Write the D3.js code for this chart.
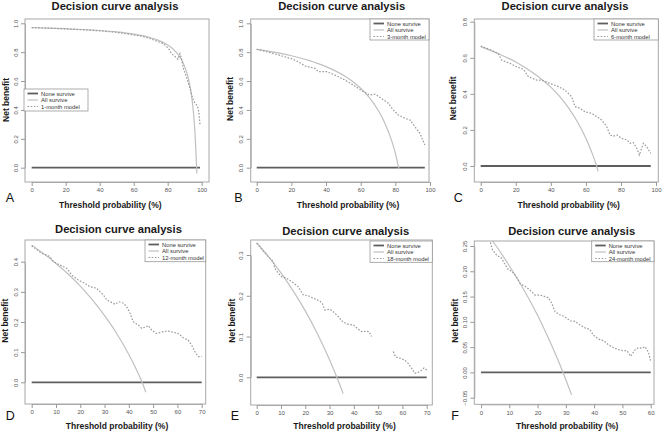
<!DOCTYPE html>
<html>
<head>
<meta charset="utf-8">
<script src="https://cdn.jsdelivr.net/npm/d3@7"></script>
<style>
body { margin: 0; background: #fff; }
svg { display: block; font-family: "Liberation Sans", Arial, sans-serif; }
</style>
</head>
<body>
<script>
const W = 662, H = 431

// legend text + model names
const legendLabels = ['None survive', 'All survive']
const modelNames = ['1-month model', '3-month model', '6-month model', '12-month model', '18-month model', '24-month model']

// tick values
const xTicks100 = [0, 20, 40, 60, 80, 100]
const xTicks70 = [0, 10, 20, 30, 40, 50, 60, 70]
const xTicks60 = [0, 10, 20, 30, 40, 50, 60]
const yTicksAB = [0, 0.2, 0.4, 0.6, 0.8, 1.0]
const yTicksC = [0, 0.2, 0.4, 0.6, 0.8]
const yTicksD = [0, 0.1, 0.2, 0.3, 0.4]
const yTicksE = [0, 0.1, 0.2, 0.3]
const yTicksF = [-0.05, 0, 0.05, 0.10, 0.15, 0.20, 0.25]

// None survive (reference line at 0)
const noneA = [[0, 0], [99, 0]]
const noneB = [[0, 0], [97, 0]]
const noneC = [[0, 0], [97, 0]]
const noneD = [[0, 0], [70, 0]]
const noneE = [[0, 0], [70, 0]]
const noneF = [[0, 0], [60, 0]]

// All survive curves
const allA = [[0, 0.97], [10, 0.967], [20, 0.9625], [30, 0.957], [40, 0.95], [50, 0.94], [60, 0.925], [70, 0.90], [75, 0.88], [80, 0.85], [85, 0.80], [88, 0.75], [90, 0.70], [92, 0.625], [93, 0.57], [94, 0.50], [95, 0.40], [96, 0.25], [96.5, 0.14], [97, 0.0], [97.2, -0.04]]
const allB = [[0, 0.82], [10, 0.80], [20, 0.775], [30, 0.743], [40, 0.70], [50, 0.64], [55, 0.60], [60, 0.55], [65, 0.486], [70, 0.40], [74, 0.308], [78, 0.182], [80, 0.10], [82, 0.0], [82.3, -0.01]]
const allC = [[0, 0.662], [10, 0.623], [20, 0.577], [30, 0.516], [40, 0.437], [45, 0.386], [50, 0.324], [55, 0.248], [60, 0.154], [63, 0.085], [66, 0.004], [67, -0.03]]
const allD = [[0, 0.455], [5, 0.426], [10, 0.394], [15, 0.359], [20, 0.319], [25, 0.273], [30, 0.221], [35, 0.162], [40, 0.092], [43, 0.044], [45, 0.009], [47, -0.033]]
const allE = [[0, 0.33], [5, 0.295], [10, 0.256], [15, 0.212], [20, 0.163], [25, 0.107], [30, 0.043], [33, 0.0], [35.6, -0.04]]
const allF = [[0, 0.29], [5, 0.253], [10, 0.211], [15, 0.165], [20, 0.113], [25, 0.053], [29, 0.0], [32, -0.044]]

// model curves
const modelA = [[0, 0.97], [10, 0.966], [20, 0.961], [30, 0.955], [40, 0.948], [50, 0.937], [60, 0.92], [65, 0.91], [70, 0.893], [75, 0.87], [77.4, 0.86], [80.4, 0.827], [82.3, 0.79], [84.3, 0.77], [86, 0.75], [87.2, 0.79], [88, 0.76], [89.2, 0.69], [91.2, 0.62], [93.1, 0.55], [94.7, 0.48], [96, 0.446], [97, 0.434], [98, 0.41], [98.5, 0.36], [99, 0.30]]
const modelB = [[0, 0.82], [5, 0.805], [10, 0.79], [17, 0.765], [20, 0.755], [24, 0.734], [28, 0.704], [33.6, 0.688], [35.5, 0.665], [40.4, 0.665], [45, 0.642], [51, 0.607], [55.7, 0.573], [61.5, 0.526], [65.4, 0.503], [68.3, 0.51], [72, 0.48], [76, 0.446], [78.8, 0.40], [81.7, 0.365], [85.6, 0.342], [88.5, 0.33], [91.3, 0.284], [94.2, 0.238], [97, 0.157]]
const modelC = [[0, 0.665], [5.3, 0.646], [10, 0.624], [12, 0.587], [16.7, 0.569], [20.5, 0.55], [24.3, 0.537], [27.2, 0.495], [31.9, 0.476], [34.8, 0.476], [39.5, 0.458], [44.3, 0.44], [48.1, 0.421], [51.9, 0.384], [53.8, 0.329], [56.6, 0.32], [59.5, 0.30], [63.3, 0.292], [66.2, 0.273], [69, 0.255], [71.9, 0.218], [73.8, 0.172], [75.6, 0.165], [77.9, 0.172], [80.4, 0.153], [83.3, 0.145], [85.2, 0.126], [87, 0.13], [89, 0.098], [90.5, 0.061], [92.8, 0.126], [94.7, 0.107], [97, 0.07]]
const modelD = [[0, 0.453], [4.1, 0.428], [7.5, 0.417], [8.9, 0.40], [11.6, 0.389], [14.4, 0.378], [16.5, 0.356], [19.2, 0.339], [22, 0.328], [24, 0.317], [26.7, 0.312], [29.5, 0.29], [30.9, 0.273], [32.9, 0.265], [34.3, 0.259], [36, 0.267], [37.8, 0.262], [39.1, 0.251], [40.5, 0.229], [41.8, 0.201], [43.9, 0.19], [45.3, 0.179], [47.1, 0.184], [48, 0.188], [49.4, 0.173], [51.4, 0.162], [54.2, 0.168], [56.2, 0.17], [58.3, 0.166], [60.3, 0.162], [62.4, 0.148], [64.4, 0.14], [65.8, 0.124], [67.2, 0.102], [68.6, 0.085], [70, 0.085]]
const modelE = [[0, 0.329], [4.1, 0.30], [6.8, 0.284], [7.5, 0.267], [8.9, 0.255], [10.3, 0.247], [12.3, 0.243], [14.4, 0.235], [17.1, 0.222], [19.2, 0.202], [21.2, 0.20], [23.3, 0.194], [26, 0.187], [27, 0.181], [28.1, 0.165], [30.2, 0.167], [31.5, 0.161], [33.6, 0.149], [35.4, 0.136], [37.7, 0.13], [39.9, 0.128], [41.4, 0.12], [43.2, 0.112], [45.2, 0.113], [46.2, 0.112], [47.3, 0.10], [50, null], [56.2, 0.063], [57.2, 0.05], [59, 0.047], [61, 0.042], [62.4, 0.034], [63.8, 0.022], [65.1, 0.01], [66.5, 0.012], [67.9, 0.018], [68.9, 0.023], [70, 0.018]]
const modelF = [[0, 0.29], [3.2, 0.259], [4.1, 0.242], [5.5, 0.232], [7.3, 0.226], [8.5, 0.213], [9.7, 0.203], [10.9, 0.20], [12.4, 0.19], [13.8, 0.176], [15.6, 0.17], [17.3, 0.163], [19.1, 0.153], [20.9, 0.153], [22.6, 0.15], [23.8, 0.148], [25, 0.137], [26.2, 0.12], [27.9, 0.114], [29.7, 0.11], [31.5, 0.102], [33.2, 0.101], [35, 0.094], [36.8, 0.088], [38.5, 0.085], [39.7, 0.074], [41.5, 0.066], [43.2, 0.063], [45, 0.055], [46.8, 0.049], [48.6, 0.045], [50.1, 0.043], [51.6, 0.043], [52.9, 0.032], [54.5, 0.045], [55.7, 0.049], [56.9, 0.048], [58, 0.051], [59.2, 0.04], [60, 0.022]]

// layout of each panel (local pixel coords inside the panel)
const panels = [
  { tag: 'A', ox: 0, oy: 0, none: noneA, all: allA, model: modelA, name: modelNames[0],
    xt: xTicks100, yt: yTicksAB, xr: [31.7, 201.7], yr: [167.7, 23.3], box: [25, 209, 19, 182],
    title: [115, 9.5], xlab: [110.3, 207.5], ylab: [6, 100], tagPos: [10, 197.5], legend: [24, 89, 64, 22], fmt: '.1f' },
  { tag: 'B', ox: 220, oy: 0, none: noneB, all: allB, model: modelB, name: modelNames[1],
    xt: xTicks100, yt: yTicksAB, xr: [36.7, 210], yr: [167.7, 23.3], box: [30.7, 209, 19, 182],
    title: [121.7, 9.5], xlab: [128, 208], ylab: [10, 99], tagPos: [18.3, 197.5], legend: [150, 19, 59, 21], fmt: '.1f' },
  { tag: 'C', ox: 440, oy: 0, none: noneC, all: allC, model: modelC, name: modelNames[2],
    xt: xTicks100, yt: yTicksC, xr: [40.7, 216], yr: [166, 21.7], box: [34.3, 218.3, 19, 182],
    title: [125, 9.5], xlab: [128.7, 208], ylab: [13.3, 98.3], tagPos: [18.3, 197.5], legend: [154, 19, 64.3, 21], fmt: '.1f' },
  { tag: 'D', ox: 0, oy: 215, none: noneD, all: allD, model: modelD, name: modelNames[3],
    xt: xTicks70, yt: yTicksD, xr: [31.7, 201.7], yr: [167.3, 46.7], box: [25, 205.7, 25, 189],
    title: [118.5, 17.5], xlab: [117, 214], ylab: [5, 105.7], tagPos: [10.3, 200.3], legend: [145, 25, 60.7, 21.7], fmt: '.1f' },
  { tag: 'E', ox: 220, oy: 215, none: noneE, all: allE, model: modelE, name: modelNames[4],
    xt: xTicks70, yt: yTicksE, xr: [36.7, 206.7], yr: [162.3, 40], box: [30.7, 212.3, 25, 190],
    title: [125.7, 19.5], xlab: [124.5, 214], ylab: [11.7, 105.7], tagPos: [15, 200.3], legend: [150, 26, 62.3, 21.3], fmt: '.1f' },
  { tag: 'F', ox: 440, oy: 215, none: noneF, all: allF, model: modelF, name: modelNames[5],
    xt: xTicks60, yt: yTicksF, xr: [41, 210.7], yr: [182.7, 31], box: [34.3, 214, 26, 189.3],
    title: [131.7, 19.5], xlab: [127.2, 214], ylab: [15, 105.7], tagPos: [15, 200.3], legend: [151.7, 26, 62.3, 20.7], fmt: '.2f' }
]

const svg = d3.select('body').append('svg')
  .attr('width', W)
  .attr('height', H)

svg.append('rect').attr('width', W).attr('height', H).attr('fill', '#fff')

const styles = {
  none: { stroke: '#5e5e5e', width: 1.8, dash: null },
  all: { stroke: '#c0c0c0', width: 1.2, dash: null },
  model: { stroke: '#9a9a9a', width: 1.2, dash: '1.6,1.6' }
}

panels.forEach(function(p, i) {
  const g = svg.append('g').attr('transform', `translate(${p.ox},${p.oy})`)
  const [bx0, bx1, by0, by1] = p.box

  const x = d3.scaleLinear().domain(d3.extent(p.xt)).range(p.xr)
  const y = d3.scaleLinear().domain(d3.extent(p.yt)).range(p.yr)

  // clip to the plot box
  const clipId = 'clip' + i
  g.append('clipPath').attr('id', clipId)
    .append('rect')
      .attr('x', bx0).attr('y', by0)
      .attr('width', bx1 - bx0).attr('height', by1 - by0)

  const lineSmooth = d3.line()
    .x(d => x(d[0])).y(d => y(d[1]))
    .curve(d3.curveMonotoneX)
  const lineRough = d3.line()
    .defined(d => d[1] !== null)
    .x(d => x(d[0])).y(d => y(d[1]))

  const plot = g.append('g').attr('clip-path', `url(#${clipId})`)

  plot.append('path').datum(p.none)
    .attr('d', lineRough).attr('fill', 'none')
    .attr('stroke', styles.none.stroke).attr('stroke-width', styles.none.width)

  plot.append('path').datum(p.all)
    .attr('d', lineSmooth).attr('fill', 'none')
    .attr('stroke', styles.all.stroke).attr('stroke-width', styles.all.width)

  plot.append('path').datum(p.model)
    .attr('d', lineRough).attr('fill', 'none')
    .attr('stroke', styles.model.stroke).attr('stroke-width', styles.model.width)
    .attr('stroke-dasharray', styles.model.dash)

  // box
  g.append('rect')
    .attr('x', bx0).attr('y', by0)
    .attr('width', bx1 - bx0).attr('height', by1 - by0)
    .attr('fill', 'none').attr('stroke', '#a8a8a8').attr('stroke-width', 1)

  // x axis
  const xa = g.append('g').attr('transform', `translate(0,${by1})`)
    .call(d3.axisBottom(x).tickValues(p.xt).tickSize(4).tickSizeOuter(0).tickPadding(2).tickFormat(d3.format('d')))
  xa.select('.domain').attr('stroke', '#a8a8a8')
  xa.selectAll('.tick line').attr('stroke', '#999')
  xa.selectAll('.tick text').attr('font-size', 6).attr('fill', '#555').attr('font-family', null)

  // y axis, labels parallel to the axis
  const ya = g.append('g').attr('transform', `translate(${bx0},0)`)
    .call(d3.axisLeft(y).tickValues(p.yt).tickSize(4).tickSizeOuter(0).tickFormat(d3.format(p.fmt)))
  ya.select('.domain').attr('stroke', '#a8a8a8')
  ya.selectAll('.tick line').attr('stroke', '#999')
  ya.selectAll('.tick text')
    .attr('font-size', 6).attr('fill', '#555').attr('font-family', null)
    .attr('transform', 'rotate(-90)')
    .attr('x', 0).attr('y', -7.5).attr('dy', 0)
    .attr('text-anchor', 'middle')

  // titles
  g.append('text')
    .attr('x', p.title[0]).attr('y', p.title[1])
    .attr('text-anchor', 'middle')
    .attr('font-size', 11.2).attr('font-weight', 'bold').attr('fill', '#1a1a1a')
    .text('Decision curve analysis')

  g.append('text')
    .attr('x', p.xlab[0]).attr('y', p.xlab[1])
    .attr('text-anchor', 'middle')
    .attr('font-size', 8.5).attr('font-weight', 'bold').attr('fill', '#1a1a1a')
    .text('Threshold probability (%)')

  g.append('text')
    .attr('transform', `translate(${p.ylab[0]},${p.ylab[1]}) rotate(-90)`)
    .attr('dy', '0.35em')
    .attr('text-anchor', 'middle')
    .attr('font-size', 8.5).attr('font-weight', 'bold').attr('fill', '#1a1a1a')
    .text('Net benefit')

  g.append('text')
    .attr('x', p.tagPos[0]).attr('y', p.tagPos[1])
    .attr('dy', '0.36em')
    .attr('text-anchor', 'middle')
    .attr('font-size', 12.5).attr('fill', '#111')
    .text(p.tag)

  // legend
  const [lx, ly, lw, lh] = p.legend
  const lg = g.append('g')
  lg.append('rect')
    .attr('x', lx).attr('y', ly).attr('width', lw).attr('height', lh)
    .attr('fill', '#fff').attr('stroke', '#999').attr('stroke-width', 0.8)

  const items = [
    { label: legendLabels[0], s: styles.none },
    { label: legendLabels[1], s: styles.all },
    { label: p.name, s: styles.model }
  ]
  items.forEach(function(it, k) {
    const yy = ly + 4.5 + k * 6.5
    lg.append('line')
      .attr('x1', lx + 3.5).attr('x2', lx + 14)
      .attr('y1', yy).attr('y2', yy)
      .attr('stroke', it.s.stroke).attr('stroke-width', it.s.width)
      .attr('stroke-dasharray', it.s.dash)
    lg.append('text')
      .attr('x', lx + 17).attr('y', yy)
      .attr('dy', '0.35em')
      .attr('font-size', 5.8).attr('fill', '#333')
      .text(it.label)
  })
})
</script>
</body>
</html>
